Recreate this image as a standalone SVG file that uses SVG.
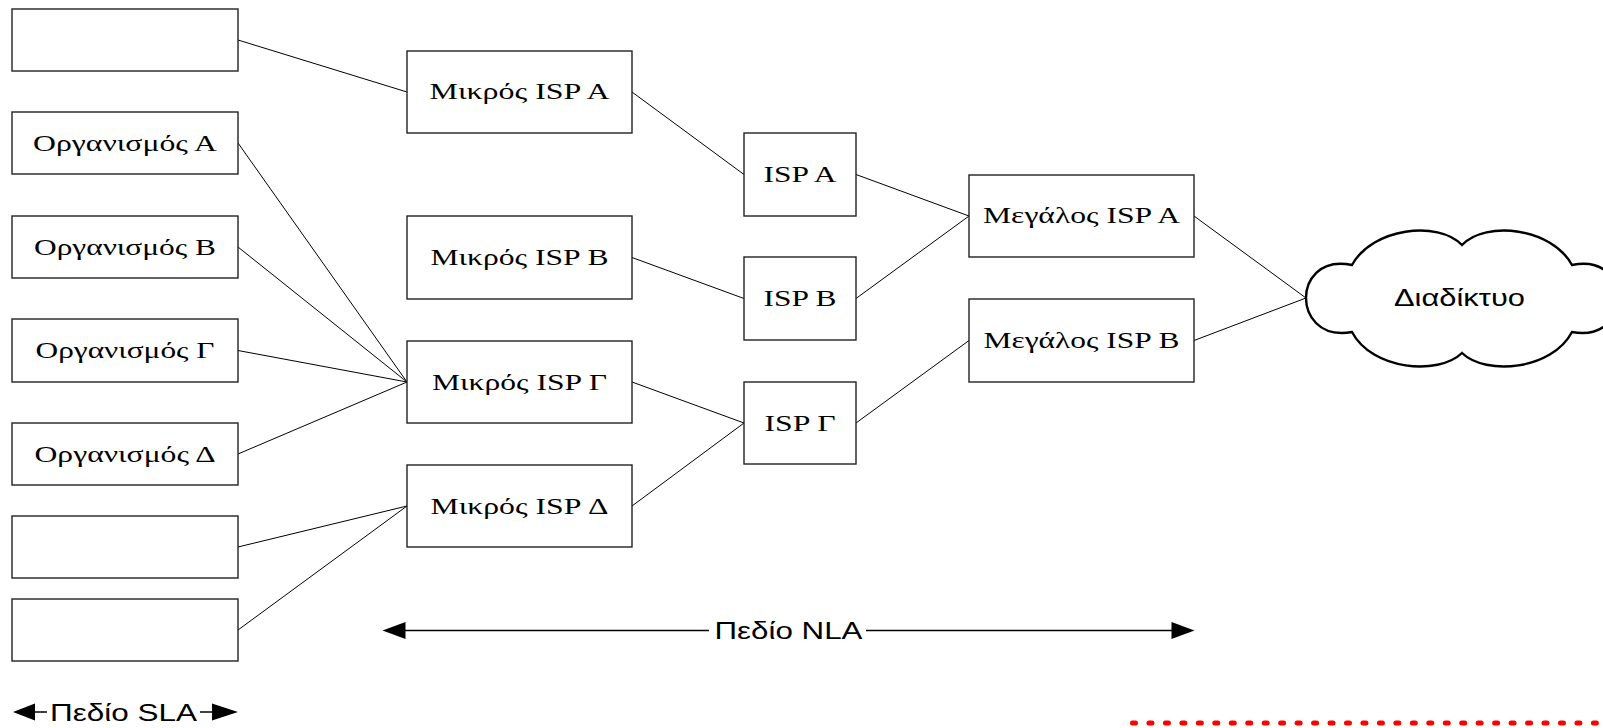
<svg xmlns="http://www.w3.org/2000/svg" width="1603" height="728" viewBox="0 0 1603 728">
<style>
.box{fill:#fff;stroke:#222;stroke-width:1.4}
.lbl{font-family:"Liberation Serif","Times New Roman",serif;font-size:23px;fill:#000;text-anchor:middle}
.sans{font-family:"Liberation Sans",Arial,sans-serif;font-size:23px;fill:#000}
.con line{stroke:#000;stroke-width:1}
.cloud{fill:#fff;stroke:#000;stroke-width:2.4}
.ax{stroke:#000;stroke-width:1.5}
</style>
<rect width="1603" height="728" fill="#fff"/>
<g id="connectors" class="con">
<line x1="238" y1="40" x2="407" y2="92"/>
<line x1="238" y1="143" x2="407" y2="382"/>
<line x1="238" y1="247" x2="407" y2="382"/>
<line x1="238" y1="350.5" x2="407" y2="382"/>
<line x1="238" y1="454" x2="407" y2="382"/>
<line x1="238" y1="547" x2="407" y2="506"/>
<line x1="238" y1="630" x2="407" y2="506"/>
<line x1="632" y1="92" x2="744" y2="174.5"/>
<line x1="632" y1="257.5" x2="744" y2="298.5"/>
<line x1="632" y1="382" x2="744" y2="423"/>
<line x1="632" y1="506" x2="744" y2="423"/>
<line x1="856" y1="174.5" x2="969" y2="216"/>
<line x1="856" y1="298.5" x2="969" y2="216"/>
<line x1="856" y1="423" x2="969" y2="340.5"/>
<line x1="1194" y1="216" x2="1306" y2="298"/>
<line x1="1194" y1="340.5" x2="1306" y2="298"/>
</g>
<g id="site1"><rect class="box" x="12" y="9" width="226" height="62"/></g>
<g id="orgA"><rect class="box" x="12" y="112" width="226" height="62"/><text class="lbl" x="125" y="151" textLength="184" lengthAdjust="spacingAndGlyphs">Οργανισμός Α</text></g>
<g id="orgB"><rect class="box" x="12" y="216" width="226" height="62"/><text class="lbl" x="125" y="254.5" textLength="182" lengthAdjust="spacingAndGlyphs">Οργανισμός Β</text></g>
<g id="orgG"><rect class="box" x="12" y="319" width="226" height="63"/><text class="lbl" x="125" y="358" textLength="179" lengthAdjust="spacingAndGlyphs">Οργανισμός Γ</text></g>
<g id="orgD"><rect class="box" x="12" y="423" width="226" height="62"/><text class="lbl" x="125" y="461.5" textLength="181" lengthAdjust="spacingAndGlyphs">Οργανισμός Δ</text></g>
<g id="site6"><rect class="box" x="12" y="516" width="226" height="62"/></g>
<g id="site7"><rect class="box" x="12" y="599" width="226" height="62"/></g>
<g id="mikrosA"><rect class="box" x="407" y="51" width="225" height="82"/><text class="lbl" x="519.5" y="99" textLength="180" lengthAdjust="spacingAndGlyphs">Μικρός ISP A</text></g>
<g id="mikrosB"><rect class="box" x="407" y="216" width="225" height="83"/><text class="lbl" x="519.5" y="265" textLength="178" lengthAdjust="spacingAndGlyphs">Μικρός ISP B</text></g>
<g id="mikrosG"><rect class="box" x="407" y="341" width="225" height="82"/><text class="lbl" x="519.5" y="389.5" textLength="175" lengthAdjust="spacingAndGlyphs">Μικρός ISP Γ</text></g>
<g id="mikrosD"><rect class="box" x="407" y="465" width="225" height="82"/><text class="lbl" x="519.5" y="513.5" textLength="178" lengthAdjust="spacingAndGlyphs">Μικρός ISP Δ</text></g>
<g id="ispA"><rect class="box" x="744" y="133" width="112" height="83"/><text class="lbl" x="800" y="182" textLength="73" lengthAdjust="spacingAndGlyphs">ISP A</text></g>
<g id="ispB"><rect class="box" x="744" y="257" width="112" height="83"/><text class="lbl" x="800" y="306" textLength="73" lengthAdjust="spacingAndGlyphs">ISP B</text></g>
<g id="ispG"><rect class="box" x="744" y="382" width="112" height="82"/><text class="lbl" x="800" y="430.5" textLength="71" lengthAdjust="spacingAndGlyphs">ISP Γ</text></g>
<g id="megalosA"><rect class="box" x="969" y="175" width="225" height="82"/><text class="lbl" x="1081.5" y="223" textLength="197" lengthAdjust="spacingAndGlyphs">Μεγάλος ISP A</text></g>
<g id="megalosB"><rect class="box" x="969" y="299" width="225" height="83"/><text class="lbl" x="1081.5" y="347.5" textLength="196" lengthAdjust="spacingAndGlyphs">Μεγάλος ISP B</text></g>
<g id="internet">
<path class="cloud" d="M1352,265 C1372,228 1438,220 1462,245 C1486,220 1552,228 1572,265 C1606,258 1618,282 1618,298 C1618,314 1606,338 1572,332 C1552,370 1486,376 1462,353 C1438,376 1372,370 1352,332 C1318,338 1306,314 1306,298 C1306,282 1318,258 1352,265 Z"/>
<text class="sans" x="1459.5" y="306" text-anchor="middle" textLength="131" lengthAdjust="spacingAndGlyphs">Διαδίκτυο</text>
</g>
<g id="nla">
<line class="ax" x1="405" y1="630.5" x2="709" y2="630.5"/>
<line class="ax" x1="866" y1="630.5" x2="1172" y2="630.5"/>
<polygon points="382.5,630.5 405.5,622 405.5,639" fill="#000"/>
<polygon points="1194.5,630.5 1171.5,622 1171.5,639" fill="#000"/>
<text class="sans" x="788.5" y="638.5" text-anchor="middle" textLength="148" lengthAdjust="spacingAndGlyphs">Πεδίο NLA</text>
</g>
<g id="sla">
<line class="ax" x1="35" y1="712" x2="47" y2="712"/>
<line class="ax" x1="200" y1="712" x2="212" y2="712"/>
<polygon points="13,712 35,703.5 35,720.5" fill="#000"/>
<polygon points="238,712 212,703.5 212,720.5" fill="#000"/>
<text class="sans" x="123.5" y="720.5" text-anchor="middle" textLength="147" lengthAdjust="spacingAndGlyphs">Πεδίο SLA</text>
</g>
<line x1="1132.5" y1="723" x2="1597" y2="723" stroke="#ff0000" stroke-width="5" stroke-linecap="round" stroke-dasharray="3 13.46"/>
</svg>
